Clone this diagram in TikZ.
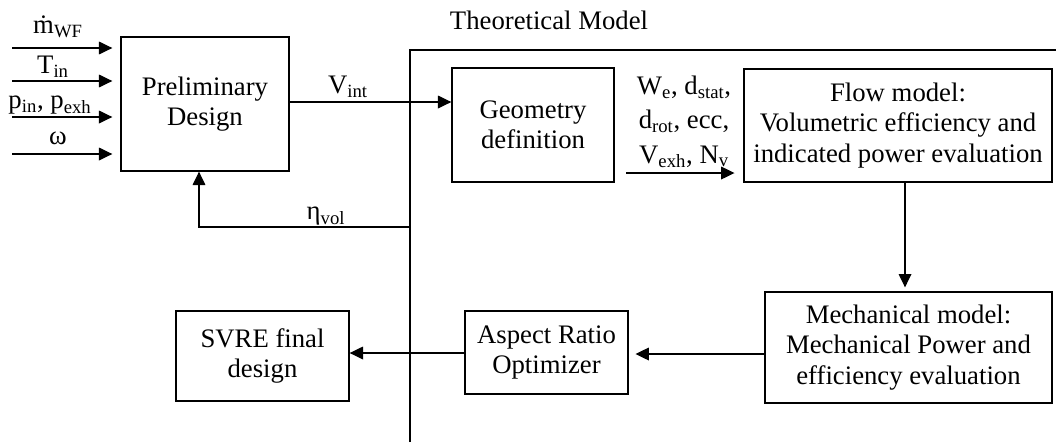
\documentclass[tikz,border=0pt]{standalone}
\usepackage{fontspec}
\setmainfont{Liberation Serif}
\usetikzlibrary{positioning, calc, arrows.meta}

\begin{document}
\begin{tikzpicture}[x=0.025cm, y=-0.025cm, line width=0.9pt,
        blocco/.style={draw, align=center, inner sep=2pt},
        testo/.style={align=center, inner sep=0pt},
        freccia/.style={-{Triangle[length=9.5pt, width=9pt]}}]
        \useasboundingbox (0,0) rectangle (1056,442);
        \fontsize{19}{21.5}\selectfont
        %disegno blocchi
        \node[blocco, minimum width=4.2cm, minimum height=3.35cm] (prel) at (205,104) {Preliminary\\Design};
        \node[blocco, minimum width=4.05cm, minimum height=2.85cm] (geom) at (533,125) {Geometry\\definition};
        \node[blocco, minimum width=7.7cm, minimum height=2.825cm] (flow) at (898,125.5) {Flow model:\\Volumetric efficiency and\\indicated power evaluation};
        \node[blocco, minimum width=7.175cm, minimum height=2.775cm] (mech) at (908.5,347.5) {Mechanical model:\\Mechanical Power and\\efficiency evaluation};
        \node[blocco, minimum width=4.075cm, minimum height=2.075cm] (aspect) at (546.5,352.5) {Aspect Ratio\\Optimizer};
        \node[blocco, minimum width=4.325cm, minimum height=2.25cm] (svre) at (262.5,356) {SVRE final\\design};
        %disegno cornice modello teorico
        \coordinate (fbot) at (410,442);
        \coordinate (fang) at (410,50);
        \coordinate (fdx) at (1056,50);
        \draw (fbot) -- (fang) -- (fdx);
        \node[testo] (theo) at (549,20) {Theoretical Model};
        %disegno ingressi
        \coordinate (in1) at (12,48);
        \coordinate (in2) at (12,81);
        \coordinate (in3) at (12,117);
        \coordinate (in4) at (12,154);
        \foreach \i in {1,...,4}
            \draw[freccia, shorten >=0.2cm] (in\i) -- (in\i -| prel.west);
        \node[testo] (mwf) at (58,27) {\.{m}\textsubscript{WF}};
        \node[testo] (tin) at (53,67) {T\textsubscript{in}};
        \node[testo] (pin) at (50,105) {p\textsubscript{in}, p\textsubscript{exh}};
        \node[testo] (omega) at (58,138) {ω};
        %disegno collegamenti
        \draw[freccia] (prel.east |- 0,102) -- (geom.west |- 0,102);
        \node[testo] (vint) at (348,87) {V\textsubscript{int}};
        \coordinate (eta0) at (410,227);
        \coordinate (etang) at (199,227);
        \draw[freccia] (eta0) -- (etang) -- (etang |- prel.south);
        \node[testo] (eta) at (326,216) {η\textsubscript{vol}};
        \coordinate (par0) at (626,173);
        \draw[freccia, shorten >=0.22cm] (par0) -- (par0 -| flow.west);
        \node[testo] (param) at (684,122) {W\textsubscript{e}, d\textsubscript{stat},\\[3pt]d\textsubscript{rot}, ecc,\\[3pt]V\textsubscript{exh}, N\textsubscript{v}};
        \draw[freccia, shorten >=0.1cm] (flow.south -| 905,0) -- (mech.north -| 905,0);
        \draw[freccia, shorten >=0.17cm] (mech.west |- 0,354) -- (aspect.east |- 0,354);
        \draw[freccia] (aspect.west |- 0,353) -- (svre.east |- 0,353);
    \end{tikzpicture}
\end{document}
